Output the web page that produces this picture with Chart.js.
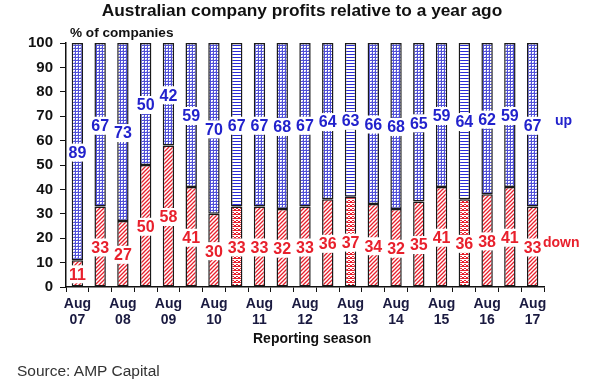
<!DOCTYPE html>
<html>
<head>
<meta charset="utf-8">
<script src="https://cdn.jsdelivr.net/npm/chart.js@4.4.1/dist/chart.umd.min.js"></script>
<style>
  body { margin: 0; background: #fff; font-family: "Liberation Sans", Arial, sans-serif; }
  #wrap { position: relative; width: 596px; height: 389px; }
  .txt { position: absolute; white-space: nowrap; }
</style>
</head>
<body>
<div id="wrap">
  <canvas id="myChart"></canvas>
  <div class="txt" style="left:0;width:604px;top:0px;text-align:center;font-weight:bold;font-size:17.3px;color:#111;">Australian company profits relative to a year ago</div>
  <div class="txt" style="left:70px;top:25px;font-weight:bold;font-size:13.6px;color:#111;">% of companies</div>
  <div class="txt" style="left:555px;top:112px;font-weight:bold;font-size:14px;color:#2222cc;">up</div>
  <div class="txt" style="left:543px;top:234px;font-weight:bold;font-size:14px;color:#e8202c;">down</div>
  <div class="txt" style="left:253px;top:330px;font-weight:bold;font-size:14px;color:#111;">Reporting season</div>
  <div class="txt" style="left:17px;top:362px;font-size:15.5px;color:#333;">Source: AMP Capital</div>
</div>

<script>
// Reporting seasons (Aug and Feb), only Aug is labelled
const seasons = ['Aug 07', 'Feb 08', 'Aug 08', 'Feb 09', 'Aug 09', 'Feb 10', 'Aug 10', 'Feb 11',
    'Aug 11', 'Feb 12', 'Aug 12', 'Feb 13', 'Aug 13', 'Feb 14', 'Aug 14', 'Feb 15', 'Aug 15',
    'Feb 16', 'Aug 16', 'Feb 17', 'Aug 17'];
const downValues = [11, 33, 27, 50, 58, 41, 30, 33, 33, 32, 33, 36, 37, 34, 32, 35, 41, 36, 38, 41, 33];
const upValues = [89, 67, 73, 50, 42, 59, 70, 67, 67, 68, 67, 64, 63, 66, 68, 65, 59, 64, 62, 59, 67];
const yTicks = [0, 10, 20, 30, 40, 50, 60, 70, 80, 90, 100];

// seasons drawn with the horizontal / wavy fill
const altFill = ['Feb 11', 'Aug 13', 'Feb 16'];

// Patterns
function makePattern(size, drawFn) {
    const c = document.createElement('canvas');
    c.width = size;
    c.height = size;
    const ctx = c.getContext('2d');
    ctx.fillStyle = '#fff';
    ctx.fillRect(0, 0, size, size);
    drawFn(ctx);
    return document.getElementById('myChart').getContext('2d').createPattern(c, 'repeat');
}

const dotsPattern = makePattern(3, function (ctx) {
    ctx.fillStyle = '#5050d8';
    ctx.fillRect(0, 0, 3, 1);
    ctx.fillRect(0, 0, 1, 3);
    ctx.fillStyle = '#b8b8ee';
    ctx.fillRect(2, 2, 1, 1);
});

const hLinesPattern = makePattern(3, function (ctx) {
    ctx.fillStyle = '#2a2ad8';
    ctx.fillRect(0, 0, 3, 1);
});

const hatchPattern = makePattern(4, function (ctx) {
    ctx.strokeStyle = '#e8202c';
    ctx.lineWidth = 1.3;
    ctx.beginPath();
    ctx.moveTo(0, 4);
    ctx.lineTo(4, 0);
    ctx.moveTo(-1, 1);
    ctx.lineTo(1, -1);
    ctx.moveTo(3, 5);
    ctx.lineTo(5, 3);
    ctx.stroke();
});

const wavyPattern = makePattern(4, function (ctx) {
    ctx.fillStyle = '#e8202c';
    ctx.fillRect(0, 0, 2, 1);
    ctx.fillRect(2, 1, 2, 1);
    ctx.fillRect(0, 2, 4, 1);
});

const downFill = seasons.map(s => altFill.includes(s) ? wavyPattern : hatchPattern);
const upFill = seasons.map(s => altFill.includes(s) ? hLinesPattern : dotsPattern);

// value labels in white boxes, centred in each segment
const segmentLabels = {
    id: 'segmentLabels',
    afterDatasetsDraw(chart) {
        const ctx = chart.ctx;
        ctx.save();
        ctx.font = 'bold 16px "Liberation Sans", Arial, sans-serif';
        ctx.textAlign = 'center';
        ctx.textBaseline = 'middle';
        chart.data.datasets.forEach(function (ds, di) {
            const meta = chart.getDatasetMeta(di);
            meta.data.forEach(function (bar, i) {
                const y = (bar.y + bar.base) / 2 + 1;
                const text = String(ds.data[i]);
                const w = ctx.measureText(text).width + 2;
                ctx.fillStyle = '#fff';
                ctx.fillRect(bar.x - w / 2, y - 9, w, 18);
                ctx.fillStyle = ds.labelColor;
                ctx.fillText(text, bar.x, y + 1);
            });
        });
        ctx.restore();
    }
};

const config = {
    type: 'bar',
    data: {
        labels: seasons.map(s => s.startsWith('Aug') ? s.split(' ') : ''),
        datasets: [{
            label: 'down',
            data: downValues,
            backgroundColor: downFill,
            borderColor: '#1a1a1a',
            borderWidth: 1.5,
            borderSkipped: false,
            labelColor: '#e8202c',
            barPercentage: 0.5,
            categoryPercentage: 1
        }, {
            label: 'up',
            data: upValues,
            backgroundColor: upFill,
            borderColor: '#1a1a1a',
            borderWidth: 1.5,
            borderSkipped: false,
            labelColor: '#2222cc',
            barPercentage: 0.5,
            categoryPercentage: 1
        }]
    },
    options: {
        responsive: true,
        maintainAspectRatio: false,
        animation: false,
        layout: {
            padding: { left: 11, right: 52, top: 43, bottom: 62 }
        },
        plugins: {
            legend: { display: false },
            tooltip: { enabled: false }
        },
        scales: {
            x: {
                stacked: true,
                afterFit: function (s) { s.height = 40; },
                grid: {
                    drawOnChartArea: false,
                    color: '#111',
                    tickLength: 5,
                    offset: true
                },
                border: { color: '#111', width: 1.5 },
                ticks: {
                    autoSkip: false,
                    maxRotation: 0,
                    padding: 4,
                    color: '#1a1a40',
                    font: { family: '"Liberation Sans", Arial, sans-serif', size: 14, weight: 'bold', lineHeight: 1.15 }
                }
            },
            y: {
                stacked: true,
                min: 0,
                max: 100,
                afterFit: function (s) { s.width = 55; },
                afterBuildTicks: function (s) { s.ticks = yTicks.map(v => ({ value: v })); },
                grid: {
                    drawOnChartArea: false,
                    color: '#111',
                    tickLength: 6,
                    offset: false
                },
                border: { color: '#111', width: 1.5 },
                ticks: {
                    padding: 7,
                    color: '#111',
                    font: { family: '"Liberation Sans", Arial, sans-serif', size: 15, weight: 'bold' }
                }
            }
        }
    },
    plugins: [segmentLabels]
};

const chart = new Chart(document.getElementById('myChart'), config);
</script>
</body>
</html>
